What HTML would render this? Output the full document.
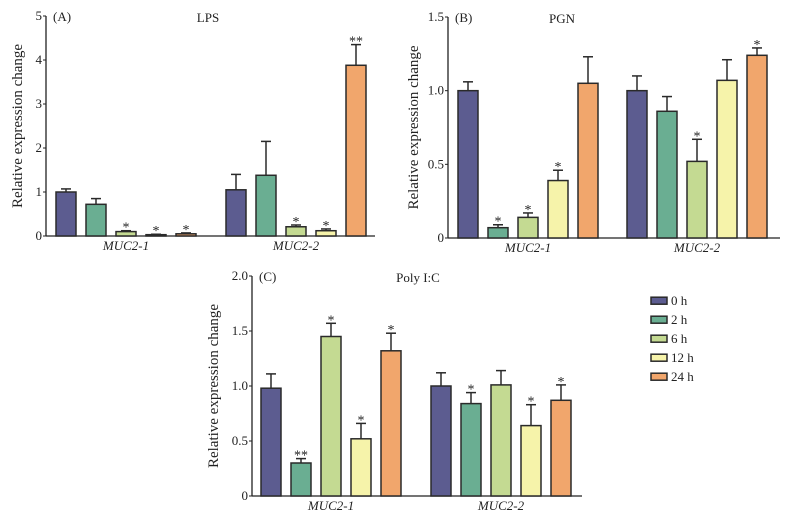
<!DOCTYPE html>
<html><head><meta charset="utf-8"><style>
html,body{margin:0;padding:0;background:#fff;}
svg{display:block;font-family:"Liberation Serif",serif;}
</style></head><body>
<svg id="fig" width="788" height="518" viewBox="0 0 788 518"></svg>
<script>
const groups = ["MUC2-1","MUC2-2"];
const timeLabels = ["0 h","2 h","6 h","12 h","24 h"];
const lpsValues = [[1.0,0.72,0.10,0.03,0.05],[1.05,1.38,0.21,0.12,3.88]];
const lpsErrors = [[0.07,0.13,0.02,0.01,0.02],[0.35,0.77,0.04,0.04,0.47]];
const lpsStars = [["","","*","*","*"],["","","*","*","**"]];
const lpsTicks = ["0","1","2","3","4","5"];
const pgnValues = [[1.0,0.07,0.14,0.39,1.05],[1.0,0.86,0.52,1.07,1.24]];
const pgnErrors = [[0.06,0.02,0.03,0.07,0.18],[0.10,0.10,0.15,0.14,0.05]];
const pgnStars = [["","*","*","*",""],["","","*","","*"]];
const pgnTicks = ["0","0.5","1.0","1.5"];
const polyValues = [[0.98,0.30,1.45,0.52,1.32],[1.0,0.84,1.01,0.64,0.87]];
const polyErrors = [[0.13,0.04,0.12,0.14,0.16],[0.12,0.10,0.13,0.19,0.14]];
const polyStars = [["","**","*","*","*"],["","*","","*","*"]];
const polyTicks = ["0","0.5","1.0","1.5","2.0"];
const colors = ["#5c5c90","#6aae92","#c4da92","#f6f3aa","#f1a66c"];

const NS="http://www.w3.org/2000/svg";
const svg=document.getElementById('fig');
function mk(tag,attrs,parent,text){const e=document.createElementNS(NS,tag);for(const k in attrs)e.setAttribute(k,attrs[k]);if(text!==undefined)e.textContent=text;(parent||svg).appendChild(e);return e;}

function panel(cfg){
  const g=mk('g',{});
  
  
  const ymax=parseFloat(cfg.ticks[cfg.ticks.length-1]);
  const y=v=>cfg.y0-(v/ymax)*(cfg.y0-cfg.yTop);
  const ya=mk('line',{x1:cfg.ax,y1:cfg.yTop,x2:cfg.ax,y2:cfg.y0,stroke:'#222','stroke-width':1.3},g);
  
  
  const xa=mk('line',{x1:cfg.ax,y1:cfg.y0,x2:cfg.axEnd,y2:cfg.y0,stroke:'#222','stroke-width':1.3},g);
  
  
  cfg.ticks.forEach(t=>{
    const v=parseFloat(t),yy=y(v);
    mk('line',{x1:cfg.ax-3,y1:yy,x2:cfg.ax,y2:yy,stroke:'#222','stroke-width':1},g);
    const tl=mk('text',{x:cfg.ax-4,y:yy+4,'text-anchor':'end','font-size':13,fill:'#222'},g,t);
    
    
  });
  const yt=mk('text',{x:0,y:0,transform:`translate(${cfg.ytx},${(cfg.yTop+cfg.y0)/2}) rotate(-90)`,'text-anchor':'middle','font-size':15,fill:'#222'},g,'Relative expression change');
  
  
  const pl=mk('text',{x:cfg.ax+7,y:cfg.yTop+5,'font-size':13,fill:'#222'},g,cfg.label);
  
  
  const ti=mk('text',{x:cfg.titleX,y:cfg.yTop+6,'text-anchor':'middle','font-size':13,fill:'#222'},g,cfg.title);
  
  
  groups.forEach((gn,gi)=>{
    const gx=cfg.gStart[gi];
    cfg.values[gi].forEach((v,i)=>{
      const x=gx+i*30, top=y(v), et=y(v+cfg.errors[gi][i]);
      const r=mk('rect',{x:x,y:top,width:20,height:cfg.y0-top,fill:colors[i],stroke:'#2a2a2a','stroke-width':1.5},g);
      
      
      mk('line',{x1:x+10,y1:top,x2:x+10,y2:et,stroke:'#2a2a2a','stroke-width':1.5},g);
      mk('line',{x1:x+5,y1:et,x2:x+15,y2:et,stroke:'#2a2a2a','stroke-width':1.5},g);
      if(cfg.stars[gi][i]){
        const s=mk('text',{x:x+10,y:et+1,'text-anchor':'middle','font-size':14,fill:'#222'},g,cfg.stars[gi][i]);
        
        
      }
    });
    const gl=mk('text',{x:gx+70,y:cfg.y0+14,'text-anchor':'middle','font-size':13,'font-style':'italic',fill:'#222'},g,gn);
    
    
  });
}
panel({name:'panel-a-lps',label:'(A)',title:'LPS',ax:46,axEnd:375,y0:236,yTop:16,ytx:22,titleX:208,gStart:[56,226],values:lpsValues,errors:lpsErrors,stars:lpsStars,ticks:lpsTicks});
panel({name:'panel-b-pgn',label:'(B)',title:'PGN',ax:448,axEnd:780,y0:238,yTop:17,ytx:418,titleX:562,gStart:[458,627],values:pgnValues,errors:pgnErrors,stars:pgnStars,ticks:pgnTicks});
panel({name:'panel-c-polyic',label:'(C)',title:'Poly I:C',ax:252,axEnd:582,y0:496,yTop:276,ytx:218,titleX:418,gStart:[261,431],values:polyValues,errors:polyErrors,stars:polyStars,ticks:polyTicks});

const lg=mk('g',{});


timeLabels.forEach((t,i)=>{
  const cy=300.7+i*19;
  const b=mk('rect',{x:651,y:cy-3.5,width:16,height:7,fill:colors[i],stroke:'#2a2a2a','stroke-width':1.5},lg);
  
  
  const tx=mk('text',{x:671,y:cy+4.5,'font-size':13,fill:'#222'},lg,t);
  
  
});
</script>
</body></html>
